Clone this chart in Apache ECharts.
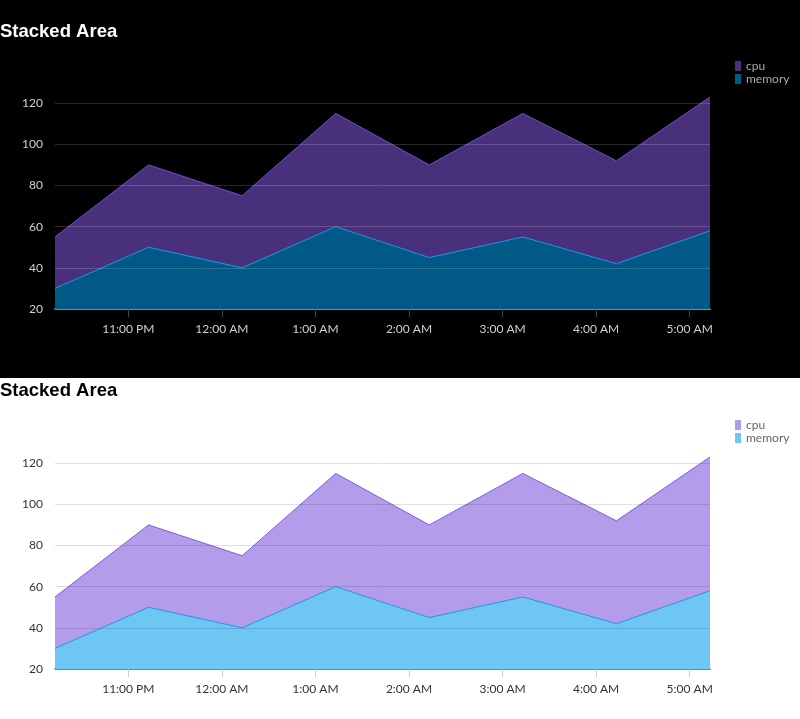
<!DOCTYPE html>
<html>
<head>
<meta charset="utf-8">
<script src="https://cdn.jsdelivr.net/npm/echarts@6/dist/echarts.min.js"></script>
<style>
  html, body { margin: 0; padding: 0; }
  #dark { width: 800px; height: 378px; background: #000; }
  #light { width: 800px; height: 341px; background: #fff; }
</style>
</head>
<body>
<div id="dark"></div>
<div id="light"></div>
<script>
// hourly samples, 10:13 PM .. 5:13 AM
var times = [
  [2024, 0, 1, 22, 13], [2024, 0, 1, 23, 13], [2024, 0, 2, 0, 13], [2024, 0, 2, 1, 13],
  [2024, 0, 2, 2, 13], [2024, 0, 2, 3, 13], [2024, 0, 2, 4, 13], [2024, 0, 2, 5, 13]
];
var memory = [30, 50, 40, 60, 45, 55, 42, 58];
var cpu = [25, 40, 35, 55, 45, 60, 50, 65];
var seriesNames = ["cpu", "memory"];

function ts(t) {
  return new Date(t[0], t[1], t[2], t[3], t[4]).getTime();
}
function pairs(vals) {
  var out = [];
  for (var i = 0; i < vals.length; i++) {
    out.push([ts(times[i]), vals[i]]);
  }
  return out;
}
function fmtHour(v) {
  var d = new Date(v);
  var h = d.getHours(), m = d.getMinutes();
  var ap = h >= 12 ? "PM" : "AM";
  h = h % 12; if (h === 0) h = 12;
  return h + ":" + (m < 10 ? "0" + m : m) + " " + ap;
}

function buildOption(th) {
  return {
    animation: false,
    backgroundColor: th.bg,
    title: {
      text: "Stacked Area",
      left: 0, top: th.titleTop, padding: 0,
      textStyle: { color: th.title, fontFamily: "Liberation Sans", fontWeight: "bold", fontSize: 18.5 }
    },
    legend: {
      data: seriesNames,
      orient: "vertical",
      left: 735, top: th.legendTop,
      itemWidth: 6, itemHeight: 10, itemGap: 1,
      icon: "rect",
      padding: 0,
      textStyle: { color: th.legendText, fontFamily: "Lato", fontSize: 12, lineHeight: 12 }
    },
    grid: { left: 55, right: 90, top: th.gridTop, bottom: th.gridBottom },
    xAxis: {
      type: "time",
      min: ts(times[0]),
      max: ts(times[times.length - 1]),
      minInterval: 3600 * 1000,
      maxInterval: 3600 * 1000,
      axisLine: { lineStyle: { color: th.baseLine, width: 2 } },
      axisTick: { show: true, length: 8, lineStyle: { color: th.tick, width: 1 } },
      splitLine: { show: false },
      axisLabel: {
        color: th.label, fontFamily: "Lato", fontSize: 12, margin: 14,
        formatter: fmtHour
      }
    },
    yAxis: {
      type: "value",
      min: 20, max: "dataMax",
      interval: 20,
      z: 3,
      axisLine: { show: false },
      axisTick: { show: false },
      splitLine: { showMaxLine: false, lineStyle: { color: th.grid, width: 1 } },
      axisLabel: { color: th.label, fontFamily: "Lato", fontSize: 12, margin: 12, showMaxLabel: false }
    },
    series: [
      {
        name: "memory", type: "line", stack: "total", data: pairs(memory),
        symbol: "none", z: 2,
        lineStyle: { color: th.memLine, width: 1 },
        itemStyle: { color: th.memFill },
        areaStyle: { color: th.memFill, opacity: 1 }
      },
      {
        name: "cpu", type: "line", stack: "total", data: pairs(cpu),
        symbol: "none", z: 1,
        lineStyle: { color: th.cpuLine, width: 1 },
        itemStyle: { color: th.cpuFill },
        areaStyle: { color: th.cpuFill, opacity: 1 }
      }
    ]
  };
}

var darkTheme = {
  bg: "#000", title: "#fff", legendText: "#a8a8a8", label: "#d0d0d0",
  grid: "rgba(255,255,255,0.16)", tick: "#444", baseLine: "#3d7fa8",
  cpuFill: "#48317a", cpuLine: "#6d4fd0", memFill: "#005a85", memLine: "#1a9bf0",
  titleTop: 22, legendTop: 60, gridTop: 97, gridBottom: 69
};
var lightTheme = {
  bg: "#fff", title: "#000", legendText: "#666", label: "#333",
  grid: "rgba(0,0,0,0.12)", tick: "#ccc", baseLine: "#5aa8d6",
  cpuFill: "#b39deb", cpuLine: "#7b5ce0", memFill: "#6ec6f3", memLine: "#1f93e6",
  titleTop: 3, legendTop: 41, gridTop: 79, gridBottom: 50
};

var darkChart = echarts.init(document.getElementById("dark"));
darkChart.setOption(buildOption(darkTheme));
var lightChart = echarts.init(document.getElementById("light"));
lightChart.setOption(buildOption(lightTheme));
</script>
</body>
</html>
